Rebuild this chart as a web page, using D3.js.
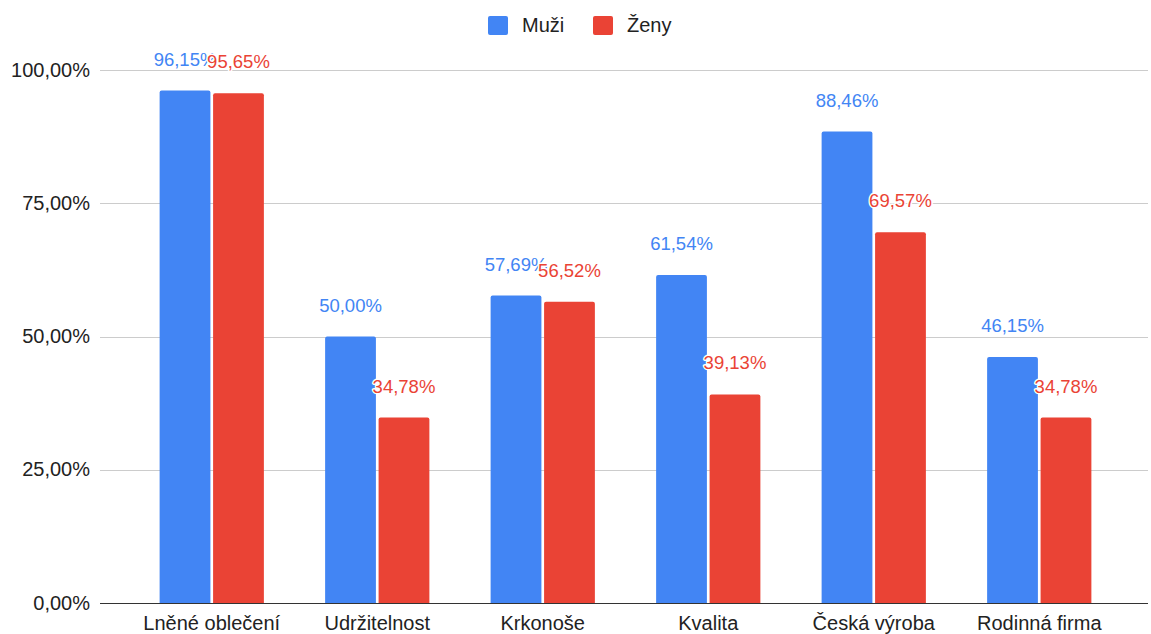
<!DOCTYPE html>
<html><head><meta charset="utf-8">
<script src="https://cdn.jsdelivr.net/npm/d3@7"></script>
<style>body{margin:0;background:#fff;font-family:"Liberation Sans",Arial,sans-serif;}</style>
</head><body><svg id="c" width="1151" height="634"></svg>
<script>
const categories = ["Lněné oblečení","Udržitelnost","Krkonoše","Kvalita","Česká výroba","Rodinná firma"];
const seriesNames = ["Muži","Ženy"];
const muzi = [96.15, 50.00, 57.69, 61.54, 88.46, 46.15];
const zeny = [95.65, 34.78, 56.52, 39.13, 69.57, 34.78];
const yTicks = [0, 25, 50, 75, 100];
const colors = ["#4285F4", "#EA4335"];

const FONT = '"Liberation Sans", Arial, Helvetica, sans-serif';
const FS = 18.5, FSA = 20;
const svg = d3.select("#c");
const fmt = v => v.toFixed(2).replace(".", ",") + "%";
const y = d3.scaleLinear().domain([0, 100]).range([603, 70]);
const x0 = d3.scaleBand().domain(categories).range([129, 1122]).paddingInner(0.37).paddingOuter(0.185);
const x1 = d3.scaleBand().domain(seriesNames).range([0, x0.bandwidth()]).paddingInner(0.05);

// gridlines
svg.append("g").selectAll("line").data(yTicks).join("line")
  .attr("x1", 100).attr("x2", 1148)
  .attr("y1", d => Math.round(y(d)) + 0.5).attr("y2", d => Math.round(y(d)) + 0.5)
  .attr("stroke", d => d === 0 ? "#333" : "#ccc").attr("stroke-width", 1);

// y axis labels
const yAxis = d3.axisLeft(y).tickValues(yTicks).tickFormat(fmt).tickSize(0).tickPadding(0);
const ya = svg.append("g").attr("transform", "translate(90,0)").call(yAxis);
ya.select(".domain").remove();
ya.selectAll("text").attr("font-family", FONT).attr("font-size", FSA).attr("fill", "#222").attr("dy", "0.3em");

// x axis labels
const xAxis = d3.axisBottom(x0).tickSize(0).tickPadding(0);
const xa = svg.append("g").attr("transform", "translate(0,630)").call(xAxis);
xa.select(".domain").remove();
xa.selectAll("text").attr("font-family", FONT).attr("font-size", FSA).attr("fill", "#222").attr("dy", 0).attr("y", 0);

const data = categories.map((c, i) => ({c, vals: [muzi[i], zeny[i]]}));

// bars
const groups = svg.append("g").selectAll("g").data(data).join("g")
  .attr("transform", d => `translate(${x0(d.c)},0)`);
groups.selectAll("path").data(d => d.vals.map((v, j) => ({v, s: seriesNames[j], j}))).join("path")
  .attr("fill", d => colors[d.j])
  .attr("d", d => {
    const bx = x1(d.s), bw = x1.bandwidth(), top = y(d.v), bot = y(0), r = 2;
    return `M${bx},${bot}V${top + r}Q${bx},${top} ${bx + r},${top}H${bx + bw - r}Q${bx + bw},${top} ${bx + bw},${top + r}V${bot}Z`;
  });

// labels: blue first, then red on top
[0, 1].forEach(j => {
  svg.append("g").selectAll("text").data(data).join("text")
    .attr("x", d => x0(d.c) + x1(seriesNames[j]) + x1.bandwidth() / 2)
    .attr("y", d => y(d.vals[j]) - 25)
    .attr("text-anchor", "middle")
    .attr("font-family", FONT).attr("font-size", FS)
    .attr("fill", colors[j]).attr("stroke", "#fff").attr("stroke-width", 3)
    .attr("paint-order", "stroke").attr("stroke-linejoin", "round")
    .text(d => fmt(d.vals[j]));
});

// legend
const legendX = [488, 593];
const lg = svg.append("g").selectAll("g").data(seriesNames).join("g")
  .attr("transform", (d, i) => `translate(${legendX[i]},16)`);
lg.append("rect").attr("width", 20).attr("height", 19).attr("rx", 2).attr("fill", (d, i) => colors[i]);
lg.append("text").attr("x", 34).attr("y", 16).attr("font-family", FONT)
  .attr("font-size", FSA).attr("fill", "#222").text(d => d);
</script></body></html>
